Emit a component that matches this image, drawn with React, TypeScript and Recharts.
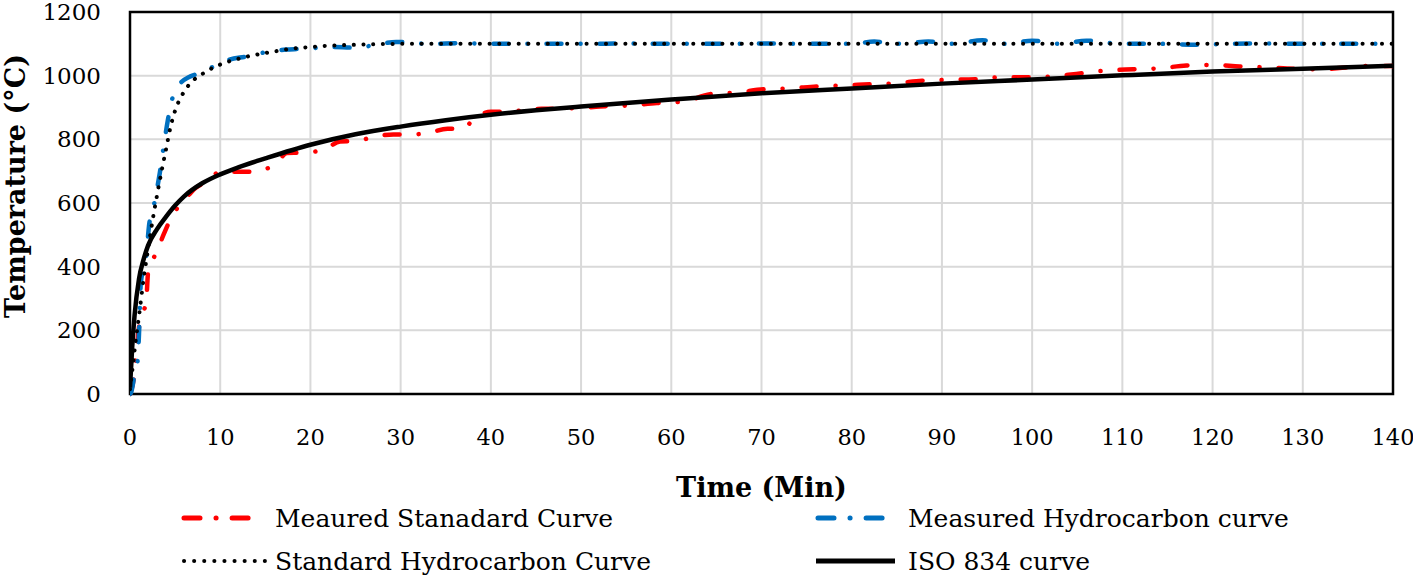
import React from 'react';
import { LineChart, Line, XAxis, YAxis, CartesianGrid, ReferenceArea, Label } from 'recharts';

if (typeof document !== 'undefined') {
  document.body.style.margin = '0';
}

const FONT = '"DejaVu Serif", serif';

const xTicks = [0, 10, 20, 30, 40, 50, 60, 70, 80, 90, 100, 110, 120, 130, 140];
const yTicks = [0, 200, 400, 600, 800, 1000, 1200];

// Measured standard curve (red)
const measStdTime = [0, 0.3, 0.5, 1.0, 1.5, 1.8, 2.0, 2.5, 2.9, 3.8, 4.5, 5.5, 6.5, 7.3, 7.8, 9, 10, 11, 12, 13.6, 15.6, 16.5, 17.4, 18.9, 21.3, 23.3, 25.1, 27.2, 29.2, 31.1, 33, 35.2, 36.8, 38.3, 40, 41.8, 43.6, 45.6, 47.5, 50, 52.1, 55, 58.4, 61.4, 64.3, 67.3, 70.2, 73.2, 76.1, 79.1, 82.1, 84.8, 87.8, 90.7, 93.7, 96.6, 99.6, 102.5, 105.3, 108.2, 111.2, 114.1, 117.1, 120, 123, 126, 128.9, 131.9, 134.8, 137.8, 140];
const measStdTemp = [0, 30, 65, 211, 260, 290, 380, 420, 443, 506, 550, 594, 625, 648, 657, 680, 699, 698, 698, 698, 714, 735, 757, 758, 765, 793, 795, 809, 815, 815, 820, 833, 833, 868, 887, 887, 891, 896, 896, 899, 903, 906, 914, 919, 942, 947, 957, 960, 966, 969, 973, 976, 984, 987, 989, 995, 995, 998, 1007, 1016, 1020, 1023, 1032, 1034, 1029, 1026, 1022, 1020, 1026, 1031, 1030];

// Measured hydrocarbon curve (blue)
const measHcTime = [0, 0.1, 0.5, 0.85, 1.0, 1.2, 1.8, 2.1, 2.7, 3.3, 3.8, 4.2, 4.7, 5.2, 5.7, 6.5, 7.2, 8, 9, 10, 11, 12.9, 14.7, 17.3, 18.8, 21, 22.5, 24.7, 27, 29.5, 33, 37, 40, 45, 50, 55, 60, 65, 70, 75, 80, 82.5, 85, 88.5, 91, 94.5, 97, 100, 103, 106, 110, 114, 118, 122, 126, 130, 134, 137, 140];
const measHcTemp = [0, 3, 60, 107, 190, 348, 431, 526, 600, 694, 790, 861, 929, 960, 980, 995, 1003, 1012, 1025, 1038, 1050, 1060, 1072, 1082, 1084, 1088, 1090, 1088, 1095, 1106, 1100, 1102, 1100, 1100, 1100, 1101, 1100, 1100, 1101, 1100, 1100, 1107, 1100, 1107, 1100, 1111, 1100, 1110, 1100, 1110, 1100, 1100, 1097, 1100, 1101, 1100, 1100, 1100, 1100];

// Standard hydrocarbon curve (black dotted)
const stdHcTime = [0, 0.3, 0.6, 1, 1.5, 2, 2.5, 3, 3.5, 4, 4.5, 5, 6, 7, 8, 9, 10, 12, 14, 16, 18, 20, 22, 25, 30, 40, 60, 80, 100, 120, 140];
const stdHcTemp = [15, 85, 160, 245, 360, 455, 545, 625, 700, 770, 840, 890, 950, 985, 1005, 1022, 1035, 1053, 1066, 1076, 1085, 1090, 1094, 1097, 1100, 1100, 1100, 1100, 1100, 1100, 1100];

// ISO 834 curve (black solid)
const isoTime = [0, 0.25, 0.5, 1, 1.5, 2, 3, 4, 5, 6, 8, 10, 12, 15, 20, 25, 30, 35, 40, 45, 50, 60, 70, 80, 90, 100, 110, 120, 130, 140];
const isoTemp = [20, 150, 245, 362, 422, 466, 518, 557, 592, 621, 662, 690, 712, 740, 783, 816, 840, 860, 877, 891, 903, 925, 945, 960, 975, 988, 1001, 1013, 1022, 1031];

const toPoints = (t: number[], v: number[]) => t.map((x, i) => ({ t: x, v: v[i] }));

const seriesNames = ['Meaured Stanadard Curve', 'Measured Hydrocarbon curve', 'Standard Hydrocarbon Curve', 'ISO 834 curve'];
const seriesColors = ['#ff0000', '#0070c0', '#000000', '#000000'];

const measStdData = toPoints(measStdTime, measStdTemp);
const measHcData = toPoints(measHcTime, measHcTemp);
const stdHcData = toPoints(stdHcTime, stdHcTemp);
const isoData = toPoints(isoTime, isoTemp);

const DASH_DOT = '15 19 0.1 19';
const DOTTED = '0.1 9.6';

const XLabel = (props: any) => {
  const vb = props.viewBox || { x: 130, y: 394, width: 1263 };
  return (
    <text x={vb.x + vb.width / 2} y={vb.y + 103} textAnchor="middle" fontFamily={FONT} fontWeight="bold" fontSize={27} fill="#000">
      Time (Min)
    </text>
  );
};

const YLabel = () => (
  <text x={25} y={186} transform="rotate(-90 25 186)" textAnchor="middle" fontFamily={FONT} fontWeight="bold" fontSize={27} fill="#000">
    Temperature (°C)
  </text>
);

const LegendOverlay = () => {
  const rowY = [518, 561];
  const entries = [
    { name: seriesNames[0], color: seriesColors[0], dash: '16 16 0.1 16', w: 5, x1: 184, x2: 251, tx: 275, row: 0 },
    { name: seriesNames[1], color: seriesColors[1], dash: '16 16 0.1 16', w: 5, x1: 818, x2: 887, tx: 908, row: 0 },
    { name: seriesNames[2], color: seriesColors[2], dash: '0.1 10', w: 4, x1: 184, x2: 265, tx: 275, row: 1 },
    { name: seriesNames[3], color: seriesColors[3], dash: undefined, w: 5, x1: 816, x2: 895, tx: 908, row: 1 },
  ];
  return (
    <svg width={1413} height={579} style={{ position: 'absolute', left: 0, top: 0, pointerEvents: 'none' }}>
      {entries.map((e) => (
        <g key={e.name}>
          <line x1={e.x1} x2={e.x2} y1={rowY[e.row]} y2={rowY[e.row]} stroke={e.color} strokeWidth={e.w} strokeDasharray={e.dash} strokeLinecap={e.dash ? 'round' : 'butt'} />
          <text x={e.tx} y={rowY[e.row] + 9} fontFamily={FONT} fontSize={25} fill="#000">{e.name}</text>
        </g>
      ))}
    </svg>
  );
};

export default function App() {
  return (
    <div style={{ position: 'relative', width: 1413, height: 579, background: '#fff' }}>
      <LineChart width={1413} height={579} margin={{ top: 12, right: 20, left: 0, bottom: 0 }}>
        <CartesianGrid stroke="#d9d9d9" strokeWidth={2} />
        <XAxis
          dataKey="t"
          type="number"
          domain={[0, 140]}
          ticks={xTicks}
          interval={0}
          allowDataOverflow
          height={185}
          axisLine={false}
          tickLine={false}
          tickSize={0}
          tickMargin={35}
          tick={{ fill: '#000', fontSize: 22.5, fontFamily: FONT }}
        >
          <Label content={XLabel} />
        </XAxis>
        <YAxis
          type="number"
          domain={[0, 1200]}
          ticks={yTicks}
          interval={0}
          width={130}
          axisLine={false}
          tickLine={false}
          tickSize={0}
          tickMargin={29}
          tick={{ fill: '#000', fontSize: 23, fontFamily: FONT }}
        >
          <Label content={YLabel} />
        </YAxis>
        <ReferenceArea x1={0} x2={140} y1={0} y2={1200} fill="none" fillOpacity={0} stroke="#000" strokeWidth={2.5} />
        <Line data={measStdData} dataKey="v" name={seriesNames[0]} type="monotone" stroke={seriesColors[0]} strokeWidth={4.5} strokeDasharray={DASH_DOT} strokeLinecap="round" dot={false} activeDot={false} isAnimationActive={false} />
        <Line data={measHcData} dataKey="v" name={seriesNames[1]} type="monotone" stroke={seriesColors[1]} strokeWidth={4.5} strokeDasharray={DASH_DOT} strokeLinecap="round" dot={false} activeDot={false} isAnimationActive={false} />
        <Line data={isoData} dataKey="v" name={seriesNames[3]} type="monotone" stroke={seriesColors[3]} strokeWidth={4.5} dot={false} activeDot={false} isAnimationActive={false} />
        <Line data={stdHcData} dataKey="v" name={seriesNames[2]} type="monotone" stroke={seriesColors[2]} strokeWidth={4} strokeDasharray={DOTTED} strokeLinecap="round" dot={false} activeDot={false} isAnimationActive={false} />
      </LineChart>
      <LegendOverlay />
    </div>
  );
}
